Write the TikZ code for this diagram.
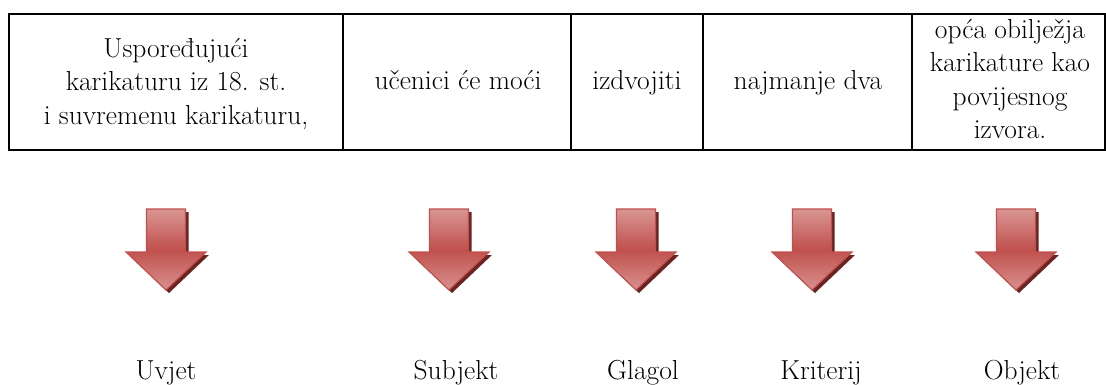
\documentclass[tikz,border=0pt]{standalone}
\usepackage{fontspec}
\definecolor{arrlight}{HTML}{D99694}
\definecolor{arrdark}{HTML}{C0504D}
\definecolor{arrtip}{HTML}{D8918F}
\definecolor{arredge}{HTML}{C0504D}
\definecolor{arrshadow}{HTML}{6B2422}
\begin{document}
\begin{tikzpicture}[x=1pt,y=-1pt,
  tline/.style={line width=1.8pt, black, line cap=rect},
  celltext/.style={inner sep=0pt, align=center, font=\fontsize{27.5}{33.5}\selectfont},
  labeltext/.style={inner sep=0pt, anchor=base, font=\fontsize{27.5}{33.5}\selectfont},
  arrowbody/.style={draw=arredge, line width=1.2pt, line join=miter,
    top color=arrlight, bottom color=arrtip, middle color=arrdark},
  arrowshade/.style={fill=arrshadow},
  downarrow/.pic={
    \fill[arrowshade, shift={(3,3)}] (-19.5,0) -- (19.5,0) -- (19.5,43) -- (40,43)
      -- (0,81) -- (-40,43) -- (-19.5,43) -- cycle;
    \draw[arrowbody] (-19.5,0) -- (19.5,0) -- (19.5,43) -- (40,43)
      -- (0,81) -- (-40,43) -- (-19.5,43) -- cycle;
  }]
\useasboundingbox (0,0) rectangle (1106,385);

% table grid
\draw[tline] (9,14) -- (1105,14);
\draw[tline] (9,150) -- (1105,150);
\foreach \xx in {9,343,571,703,912,1105}
  \draw[tline] (\xx,14) -- (\xx,150);

% cell texts
\node[celltext] (c1) at (176,83.6) {Uspoređujući\\karikaturu iz 18. st.\\i suvremenu karikaturu,};
\node[celltext, anchor=base] (c2) at (458,90) {učenici će moći};
\node[celltext, anchor=base] (c3) at (637,90) {izdvojiti};
\node[celltext, anchor=base] (c4) at (808,90) {najmanje dva};
\node[celltext] (c5) at (1010,79) {opća obilježja\\karikature kao\\povijesnog\\izvora.};

% arrows
\coordinate (a1) at (166,209);
\coordinate (a2) at (449,209);
\coordinate (a3) at (636,209);
\coordinate (a4) at (812,209);
\coordinate (a5) at (1016,209);
\foreach \aa in {a1,a2,a3,a4,a5}
  \pic at (\aa) {downarrow};

% labels
\node[labeltext] (l1) at (166,379) {Uvjet};
\node[labeltext] (l2) at (456,379) {Subjekt};
\node[labeltext] (l3) at (643,379) {Glagol};
\node[labeltext] (l4) at (821,379) {Kriterij};
\node[labeltext] (l5) at (1022,379) {Objekt};
\end{tikzpicture}
\end{document}
